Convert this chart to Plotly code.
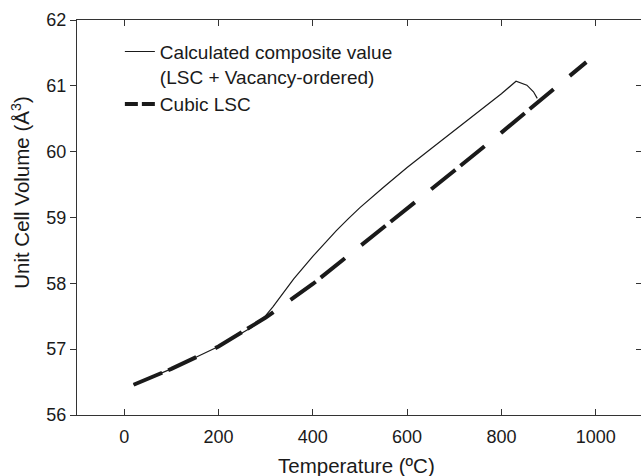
import plotly.graph_objects as go

# Cubic LSC (dashed)
cubic_T = [20, 100, 200, 300, 400, 500, 600, 700, 800, 900, 980]
cubic_V = [56.46, 56.70, 57.04, 57.48, 57.99, 58.56, 59.14, 59.71, 60.29, 60.88, 61.36]

# Calculated composite value (solid)
comp_T = [20, 100, 200, 250, 260, 270, 280, 290, 300, 315, 330, 360, 400, 425, 450, 475, 500, 550,
          600, 650, 700, 750, 800, 831, 854, 868, 876]
comp_V = [56.46, 56.70, 57.04, 57.24, 57.28, 57.33, 57.38, 57.44, 57.51, 57.64, 57.78, 58.07, 58.41, 58.61,
          58.80, 58.98, 59.15, 59.46, 59.76, 60.04, 60.32, 60.60, 60.88, 61.07, 61.01, 60.91, 60.81]

x_ticks = [0, 200, 400, 600, 800, 1000]
y_ticks = [56, 57, 58, 59, 60, 61, 62]

comp_name = "Calculated composite value<br>(LSC + Vacancy-ordered)"
cubic_name = "Cubic LSC"
x_title = "Temperature (ºC)"
y_title = "Unit Cell Volume (Å<sup>3</sup>)"

FONT = "Liberation Sans, Arial, sans-serif"
INK = "#1a1a1a"

fig = go.Figure()
fig.add_trace(go.Scatter(x=comp_T, y=comp_V, mode="lines", showlegend=False,
                         line=dict(color=INK, width=1.2)))
fig.add_trace(go.Scatter(x=cubic_T, y=cubic_V, mode="lines", showlegend=False,
                         line=dict(color=INK, width=4, dash="31px,6.5px,31px,21px")))
# legend entries
fig.add_trace(go.Scatter(x=[None], y=[None], mode="lines", name=comp_name,
                         line=dict(color=INK, width=1.2)))
fig.add_trace(go.Scatter(x=[None], y=[None], mode="lines", name=cubic_name,
                         line=dict(color=INK, width=4, dash="13px,4px")))
# right-side inward ticks
fig.add_trace(go.Scatter(x=[], y=[], yaxis="y2", showlegend=False, hoverinfo="skip"))

fig.update_layout(
    width=641, height=476,
    margin=dict(l=77, r=0, t=20, b=61, autoexpand=False),
    paper_bgcolor="white", plot_bgcolor="white",
    font=dict(family=FONT, size=18, color=INK),
    showlegend=True,
    legend=dict(x=0.076, y=0.968, xanchor="left", yanchor="top", bgcolor="rgba(0,0,0,0)",
                font=dict(size=19), valign="top", tracegroupgap=0),
    xaxis=dict(range=[-100, 1096], tickvals=x_ticks, ticks="inside", ticklen=6, tickwidth=1,
               tickcolor="#333", showline=True, linecolor="#333", linewidth=1, mirror="ticks",
               showgrid=False, zeroline=False, ticklabelstandoff=5, automargin=False),
    yaxis=dict(range=[56, 62], tickvals=y_ticks, ticks="outside", ticklen=6, tickwidth=1,
               tickcolor="#333", showline=True, linecolor="#333", linewidth=1,
               showgrid=False, zeroline=False, automargin=False),
    yaxis2=dict(range=[56, 62], tickvals=y_ticks, overlaying="y", side="right", ticks="inside",
                ticklen=5, tickcolor="#333", showticklabels=False, showline=False,
                showgrid=False, zeroline=False, automargin=False),
    annotations=[
        dict(text=y_title, textangle=-90, xref="paper", yref="paper",
             x=-0.1007, y=0.563, xanchor="center", yanchor="middle", showarrow=False,
             font=dict(size=20.5, color=INK)),
        dict(text=x_title, xref="paper", yref="paper",
             x=0.495, y=-0.129, xanchor="center", yanchor="middle", showarrow=False,
             font=dict(size=20.5, color=INK)),
    ],
)

fig.write_html("out.html", config={"displayModeBar": False},
               post_script="document.body.style.margin='0';document.body.style.overflow='hidden';")
